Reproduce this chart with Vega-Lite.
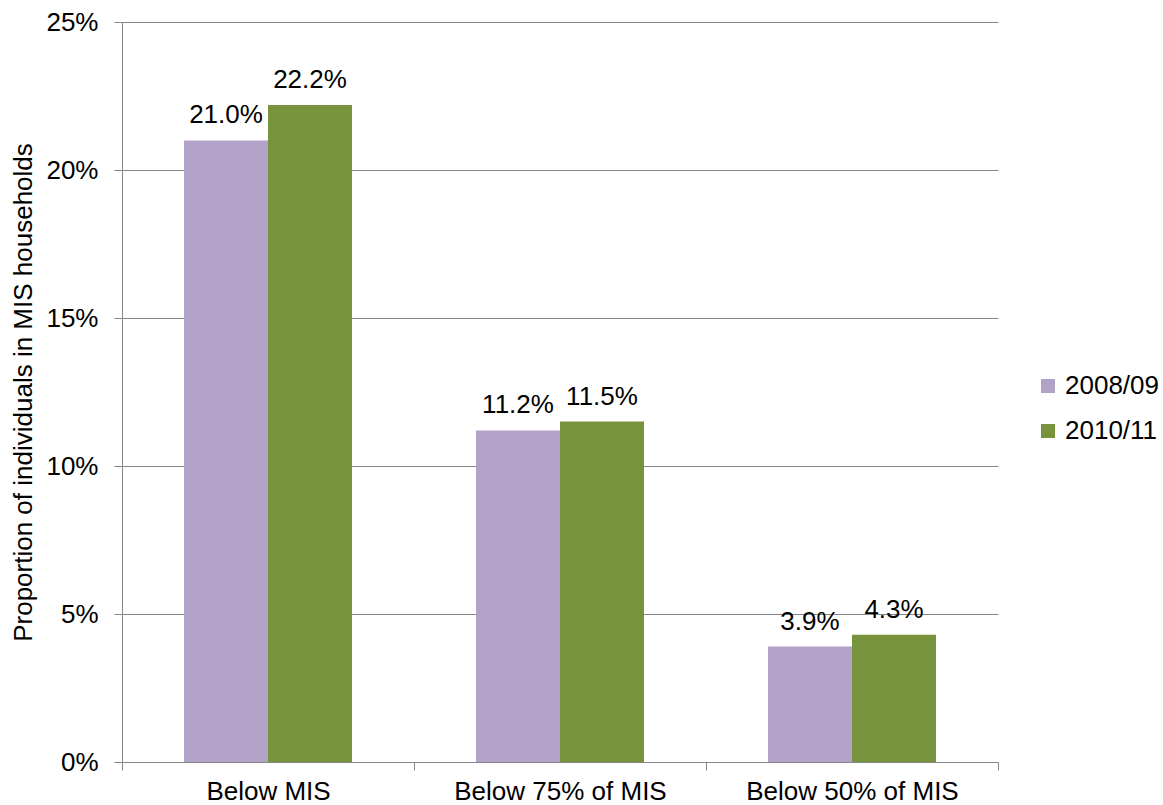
{
  "$schema": "https://vega.github.io/schema/vega-lite/v6.json",
  "width": 876,
  "height": 740,
  "autosize": {"type": "none"},
  "padding": {"left": 122, "top": 22, "right": 165, "bottom": 43},
  "background": "white",
  "config": {
    "view": {"stroke": null},
    "font": "Liberation Sans"
  },
  "data": {
    "values": [
      {"category": "Below MIS", "year": "2008/09", "share": 0.210},
      {"category": "Below MIS", "year": "2010/11", "share": 0.222},
      {"category": "Below 75% of MIS", "year": "2008/09", "share": 0.112},
      {"category": "Below 75% of MIS", "year": "2010/11", "share": 0.115},
      {"category": "Below 50% of MIS", "year": "2008/09", "share": 0.039},
      {"category": "Below 50% of MIS", "year": "2010/11", "share": 0.043}
    ]
  },
  "encoding": {
    "x": {
      "field": "category",
      "type": "nominal",
      "sort": ["Below MIS", "Below 75% of MIS", "Below 50% of MIS"],
      "scale": {"paddingInner": 0, "paddingOuter": 0},
      "axis": {
        "title": null,
        "labelAngle": 0,
        "labelFontSize": 26,
        "labelColor": "black",
        "labelPadding": 8,
        "labelLimit": 0,
        "tickBand": "extent",
        "tickSize": 8,
        "tickColor": "#868686",
        "domainColor": "#868686",
        "grid": false
      }
    },
    "xOffset": {
      "field": "year",
      "type": "nominal",
      "sort": ["2008/09", "2010/11"],
      "scale": {"paddingInner": 0, "paddingOuter": 0.738}
    },
    "y": {
      "field": "share",
      "type": "quantitative",
      "scale": {"domain": [0, 0.25], "nice": false},
      "axis": {
        "title": "Proportion of individuals in MIS households",
        "format": "%",
        "values": [0, 0.05, 0.1, 0.15, 0.2, 0.25],
        "grid": true,
        "gridColor": "#868686",
        "tickSize": 8,
        "tickColor": "#868686",
        "domainColor": "#868686",
        "labelFontSize": 26,
        "labelPadding": 16,
        "labelColor": "black",
        "titleFontSize": 26,
        "titleFontWeight": "normal",
        "titleColor": "black",
        "titleX": -91,
        "titleY": 370,
        "titleAngle": -90,
        "titleBaseline": "alphabetic",
        "titleAlign": "center"
      }
    }
  },
  "layer": [
    {
      "mark": {"type": "bar"},
      "encoding": {
        "color": {
          "field": "year",
          "type": "nominal",
          "scale": {"domain": ["2008/09", "2010/11"], "range": ["#B3A2C7", "#77933C"]},
          "legend": {
            "title": null,
            "orient": "none",
            "legendX": 913,
            "legendY": 351,
            "labelFontSize": 26,
            "labelColor": "black",
            "labelLimit": 0,
            "symbolType": "square",
            "symbolSize": 196,
            "symbolStrokeWidth": 0,
            "rowPadding": 19,
            "labelOffset": 4,
            "padding": 0
          }
        }
      }
    },
    {
      "mark": {"type": "text", "baseline": "alphabetic", "dy": -17, "fontSize": 26, "color": "black"},
      "encoding": {
        "text": {"field": "share", "type": "quantitative", "format": ".1%"}
      }
    }
  ]
}
